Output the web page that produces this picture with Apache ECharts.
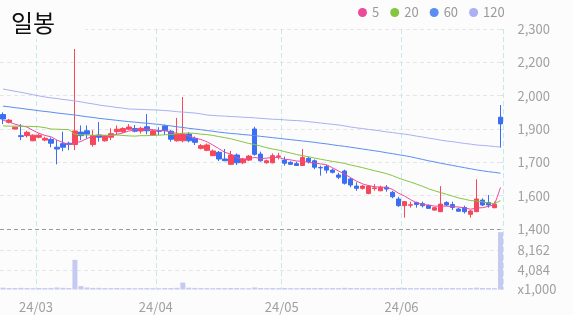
<!DOCTYPE html>
<html><head><meta charset="utf-8">
<script src="https://cdn.jsdelivr.net/npm/echarts@6/dist/echarts.min.js"></script>
<style>html,body{margin:0;padding:0;background:#fcfcfc}#c{width:573px;height:315px}</style>
</head><body><div id="c"></div>
<script>
const dates = ['2024-02-22','2024-02-23','2024-02-26','2024-02-27','2024-02-28','2024-02-29',
'2024-03-04','2024-03-05','2024-03-06','2024-03-07','2024-03-08','2024-03-11','2024-03-12','2024-03-13','2024-03-14','2024-03-15','2024-03-18','2024-03-19','2024-03-20','2024-03-21','2024-03-22','2024-03-25','2024-03-26','2024-03-27','2024-03-28','2024-03-29',
'2024-04-01','2024-04-02','2024-04-03','2024-04-04','2024-04-05','2024-04-08','2024-04-09','2024-04-11','2024-04-12','2024-04-15','2024-04-16','2024-04-17','2024-04-18','2024-04-19','2024-04-22','2024-04-23','2024-04-24','2024-04-25','2024-04-26','2024-04-29','2024-04-30',
'2024-05-02','2024-05-03','2024-05-07','2024-05-08','2024-05-09','2024-05-10','2024-05-13','2024-05-14','2024-05-16','2024-05-17','2024-05-20','2024-05-21','2024-05-22','2024-05-23','2024-05-24','2024-05-27','2024-05-28','2024-05-29','2024-05-30','2024-05-31',
'2024-06-03','2024-06-04','2024-06-05','2024-06-07','2024-06-10','2024-06-11','2024-06-12','2024-06-13','2024-06-14','2024-06-17','2024-06-18','2024-06-19','2024-06-20','2024-06-21','2024-06-24','2024-06-25','2024-06-26'];

const opens  = [1915,1880,1850,1820,1820,1797,1813,1800,1803,1768,1784,1786,1780,1836,1842,1780,1822,1797,1813,1838,1838,1849,1852,1841,1860,1823,1842,1864,1840,1797,1797,1827,1808,1763,1754,1730,1745,1715,1691,1733,1698,1710,1850,1737,1698,1698,1726,1710,1700,1694,1686,1718,1707,1677,1681,1665,1643,1661,1625,1593,1583,1560,1582,1572,1588,1565,1535,1505,1507,1519,1514,1506,1485,1478,1519,1510,1490,1497,1466,1478,1530,1519,1496,1903];
const closes = [1895,1890,1858,1816,1835,1822,1822,1808,1786,1760,1768,1780,1841,1820,1827,1820,1813,1817,1829,1849,1852,1859,1840,1853,1842,1842,1840,1842,1804,1827,1827,1797,1790,1775,1778,1751,1715,1707,1733,1698,1715,1728,1736,1707,1707,1730,1729,1696,1691,1686,1722,1703,1678,1675,1665,1655,1633,1606,1598,1583,1593,1593,1585,1588,1580,1545,1505,1523,1509,1510,1505,1493,1496,1512,1508,1497,1480,1478,1481,1535,1508,1508,1511,1873];
const lows   = [1872,1875,1848,1800,1812,1795,1808,1795,1768,1691,1750,1755,1755,1800,1808,1770,1793,1793,1800,1823,1832,1845,1835,1830,1826,1820,1823,1823,1793,1793,1790,1790,1778,1758,1750,1728,1706,1706,1688,1688,1692,1706,1730,1703,1694,1695,1713,1685,1688,1685,1684,1695,1669,1640,1650,1650,1624,1600,1588,1572,1577,1556,1572,1570,1568,1538,1500,1451,1496,1496,1497,1490,1482,1476,1503,1485,1478,1470,1451,1476,1503,1496,1493,1766];
const highs  = [1925,1895,1862,1872,1842,1826,1830,1815,1812,1800,1838,1793,2210,1866,1866,1845,1881,1822,1853,1866,1858,1872,1868,1860,1917,1848,1858,1870,1845,1900,1994,1835,1816,1782,1785,1758,1751,1760,1751,1740,1720,1733,1860,1748,1712,1740,1743,1726,1705,1703,1760,1726,1713,1685,1688,1672,1653,1667,1631,1610,1598,1598,1602,1595,1598,1572,1545,1525,1523,1523,1523,1510,1500,1593,1525,1523,1496,1505,1485,1624,1538,1553,1523,1958];

const volumes = [380,300,320,350,300,280,300,290,330,420,350,300,6200,700,420,330,350,300,290,310,280,300,270,290,300,280,270,300,320,350,1450,380,330,300,290,280,300,290,310,300,280,270,420,320,290,300,280,300,290,270,320,300,290,310,280,300,290,350,310,300,280,290,270,280,300,320,330,340,290,280,300,290,270,330,290,300,280,290,300,380,320,300,280,12000];

const ma5 = [1890,1881,1872,1864,1859,1844,1831,1821,1815,1800,1789,1780,1787,1794,1807,1818,1824,1819,1821,1826,1832,1841,1846,1851,1849,1847,1843,1844,1834,1831,1828,1819,1809,1803,1793,1778,1762,1745,1737,1721,1714,1716,1722,1717,1719,1722,1722,1714,1711,1706,1705,1700,1696,1693,1689,1675,1661,1647,1631,1615,1603,1595,1590,1588,1588,1578,1561,1548,1532,1518,1510,1508,1503,1503,1503,1501,1499,1495,1489,1494,1496,1502,1509,1587];
const ma20 = [1864,1863,1863,1862,1862,1861,1860,1856,1850,1849,1848,1847,1826,1824,1823,1822,1822,1822,1822,1823,1821,1819,1818,1820,1820,1821,1822,1824,1825,1828,1831,1832,1830,1827,1825,1821,1816,1811,1806,1799,1792,1785,1780,1773,1766,1760,1755,1748,1742,1735,1730,1725,1719,1714,1709,1704,1700,1695,1688,1682,1676,1669,1662,1656,1649,1640,1629,1620,1611,1602,1592,1581,1572,1564,1556,1548,1540,1534,1528,1526,1522,1517,1514,1528];
const ma60 = [1953,1950,1946,1943,1939,1936,1932,1929,1926,1922,1919,1916,1913,1909,1905,1902,1898,1895,1892,1889,1886,1883,1881,1878,1876,1873,1871,1867,1864,1860,1857,1853,1850,1847,1843,1840,1836,1833,1830,1828,1825,1823,1820,1817,1814,1811,1808,1805,1802,1799,1796,1793,1790,1786,1783,1779,1775,1772,1768,1764,1760,1756,1752,1748,1743,1739,1734,1730,1725,1719,1713,1707,1702,1696,1691,1686,1681,1676,1671,1666,1662,1658,1655,1651];
const ma120 = [2030,2025,2020,2015,2010,2004,1999,1994,1990,1987,1983,1980,1976,1972,1967,1963,1958,1954,1951,1947,1944,1940,1939,1938,1937,1936,1935,1933,1931,1928,1926,1924,1922,1918,1913,1911,1909,1908,1906,1905,1903,1902,1900,1898,1896,1894,1893,1891,1889,1888,1886,1883,1880,1877,1874,1871,1868,1864,1859,1855,1852,1848,1845,1841,1837,1834,1830,1827,1823,1818,1814,1809,1805,1800,1796,1793,1789,1785,1782,1778,1776,1774,1771,1769];

const legendNames = ['5','20','60','120'];
const priceTickLabels = ['1,400','1,600','1,700','1,900','2,000','2,200','2,300'];
const volTickLabels = ['x1,000','4,084','8,162'];
const xTickLabels = ['24/03','24/04','24/05','24/06'];

const FONT = 'Noto Sans CJK KR';
const LABEL_COLOR = '#a0a0a0';
const candleData = dates.map((d, i) => [opens[i], closes[i], lows[i], highs[i]]);
const isMonthStart = i => i > 0 && dates[i].slice(5, 7) !== dates[i - 1].slice(5, 7);
const vSplit = {show: true, interval: (i) => isMonthStart(i), lineStyle: {color: '#c3ebee', type: [5, 3], width: 1}};

const chart = echarts.init(document.getElementById('c'));
chart.setOption({
  backgroundColor: '#fcfcfc',
  animation: false,
  title: {text: '일봉', left: 0, top: 0, padding: [11, 30, 4, 11], backgroundColor: '#fcfcfc',
    textStyle: {fontFamily: FONT, fontSize: 24, fontWeight: 'normal', color: '#111'}},
  legend: {data: legendNames, left: 358, top: 6, padding: 0, icon: 'circle', itemWidth: 9, itemHeight: 9, itemGap: 11,
    textStyle: {fontFamily: FONT, fontSize: 13, color: '#9a9a9a'}},
  grid: [
    {left: -0.5, top: 29, width: 504, height: 200},
    {left: -0.5, top: 231, width: 504, height: 58.5}
  ],
  xAxis: [
    {type: 'category', gridIndex: 0, data: dates, boundaryGap: true,
      axisLine: {show: false}, axisTick: {show: false}, axisLabel: {show: false}, splitLine: vSplit},
    {type: 'category', gridIndex: 1, data: dates, boundaryGap: true,
      axisLine: {show: false}, axisTick: {show: false},
      axisLabel: {interval: (i) => isMonthStart(i), margin: 11, padding: [0, 6, 0, 0],
        fontFamily: FONT, fontSize: 13, color: LABEL_COLOR,
        formatter: (v) => xTickLabels.find(l => l.slice(3) === v.slice(5, 7)) || ''},
      splitLine: vSplit}
  ],
  yAxis: [
    {type: 'value', gridIndex: 0, position: 'left', min: 1400, max: 2300, show: false},
    {type: 'value', gridIndex: 0, position: 'right', min: 0, max: 900, interval: 150,
      axisLine: {show: false},
      axisTick: {show: true, inside: true, length: 3, lineStyle: {color: '#cfe7ea'}},
      axisLabel: {margin: 14, fontFamily: FONT, fontSize: 13, color: LABEL_COLOR,
        formatter: (v) => priceTickLabels[Math.round(v / 150)]},
      splitLine: {show: true, lineStyle: {color: ['#9a9a9a', '#e6e6e6', '#e6e6e6', '#e6e6e6', '#e6e6e6', '#e6e6e6', '#e6e6e6'], type: [4, 3]}}},
    {type: 'value', gridIndex: 1, position: 'right', min: 0, max: 12243, interval: 4081,
      axisLine: {show: false},
      axisTick: {show: true, inside: true, length: 3, lineStyle: {color: '#cfe7ea'}},
      axisLabel: {margin: 14, fontFamily: FONT, fontSize: 13, color: LABEL_COLOR, showMaxLabel: false,
        formatter: (v) => volTickLabels[Math.round(v / 4081)] || ''},
      splitLine: {show: true, lineStyle: {color: ['rgba(0,0,0,0)', '#e6e6e6', '#e6e6e6', 'rgba(0,0,0,0)'], type: [4, 3]}}}
  ],
  series: [
    {type: 'candlestick', name: 'candle', xAxisIndex: 0, yAxisIndex: 0, data: candleData, barWidth: 5,
      itemStyle: {color: '#f6475b', color0: '#3b6ef2', borderColor: '#f6475b', borderColor0: '#3b6ef2', borderWidth: 1}},
    {type: 'line', name: '5', xAxisIndex: 0, yAxisIndex: 0, data: ma5, symbol: 'none', color: '#ee4a9c', lineStyle: {width: 1}, z: 3},
    {type: 'line', name: '20', xAxisIndex: 0, yAxisIndex: 0, data: ma20, symbol: 'none', color: '#86c540', lineStyle: {width: 1}, z: 3},
    {type: 'line', name: '60', xAxisIndex: 0, yAxisIndex: 0, data: ma60, symbol: 'none', color: '#5b8ef2', lineStyle: {width: 1}, z: 3},
    {type: 'line', name: '120', xAxisIndex: 0, yAxisIndex: 0, data: ma120, symbol: 'none', color: '#aab0f2', lineStyle: {width: 1}, z: 3},
    {type: 'bar', name: 'vol', xAxisIndex: 1, yAxisIndex: 2, data: volumes, barWidth: 5, itemStyle: {color: '#c6c9f2'}}
  ]
});
</script>
</body></html>
